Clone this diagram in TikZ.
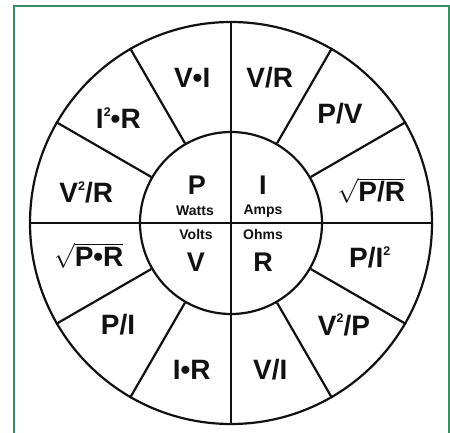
\documentclass[tikz,border=0pt]{standalone}
\usepackage{fontspec}
\setmainfont{Liberation Sans}
\usetikzlibrary{positioning}
\definecolor{frmgreen}{HTML}{3C8C64}
\definecolor{inkblk}{HTML}{111111}

% small raised square
\newcommand{\twoup}{\raisebox{0.85ex}{\fontsize{12.5}{12.5}\selectfont 2}}

\tikzset{
  formula/.style={text=inkblk, font=\fontsize{28}{30}\selectfont\bfseries, inner sep=0pt},
  qty/.style={text=inkblk, font=\fontsize{27}{29}\selectfont\bfseries, inner sep=0pt},
  unit/.style={text=inkblk, font=\fontsize{14}{15}\selectfont\bfseries, inner sep=0pt},
  ring/.style={draw=inkblk, circle, inner sep=0pt, line width=2.2pt}
}

\begin{document}
\begin{tikzpicture}[x=1pt, y=1pt, line width=2.2pt]

\useasboundingbox (-231,-209) rectangle (219,223);

% Frame
\draw[frmgreen, line width=1.3pt] (-217,-240) rectangle (218,217);

% Wheel
\node[ring, minimum size=402pt] (rim) at (0,0) {};
\node[ring, minimum size=182pt] (hub) at (0,0) {};

% Cross lines
\draw[inkblk] (rim.90) -- (rim.270);
\draw[inkblk] (rim.180) -- (rim.0);

% Spokes of the outer ring
\foreach \a in {30,60,120,150,210,240,300,330}
  \draw[inkblk] (hub.\a) -- (rim.\a);

% Quantities
\node[qty] (watts) at (-34,38) {P};
\node[qty] (amps) at (32,38) {I};
\node[qty] (volts) at (-35,-39) {V};
\node[qty] (ohms) at (32,-39) {R};

\node[unit] (wattsname) at (-36,12) {Watts};
\node[unit] (ampsname) at (32,12) {Amps};
\node[unit] (voltsname) at (-35,-11) {Volts};
\node[unit] (ohmsname) at (32,-11) {Ohms};

% Formulas
\node[formula] (vr) at (75:150) {V/R};
\node[formula] (pv) at (45:154) {P/V};
\node[formula] (sqpr) at (13:144) {$\sqrt{\mbox{P/R}}$};
\node[formula] (pisq) at (-14:143) {P/I\twoup};
\node[formula] (vsqp) at (-42:152) {V\twoup/P};
\node[formula] (vi) at (-75:152) {V/I};
\node[formula] (ir) at (-105:152) {I•R};
\node[formula] (pi) at (-138:152) {P/I};
\node[formula] (sqprod) at (-167:146) {$\sqrt{\mbox{P•R}}$};
\node[formula] (vsqr) at (168:148) {V\twoup/R};
\node[formula] (isqr) at (137:154) {I\twoup•R};
\node[formula] (vxi) at (105:150) {V•I};

\end{tikzpicture}
\end{document}
